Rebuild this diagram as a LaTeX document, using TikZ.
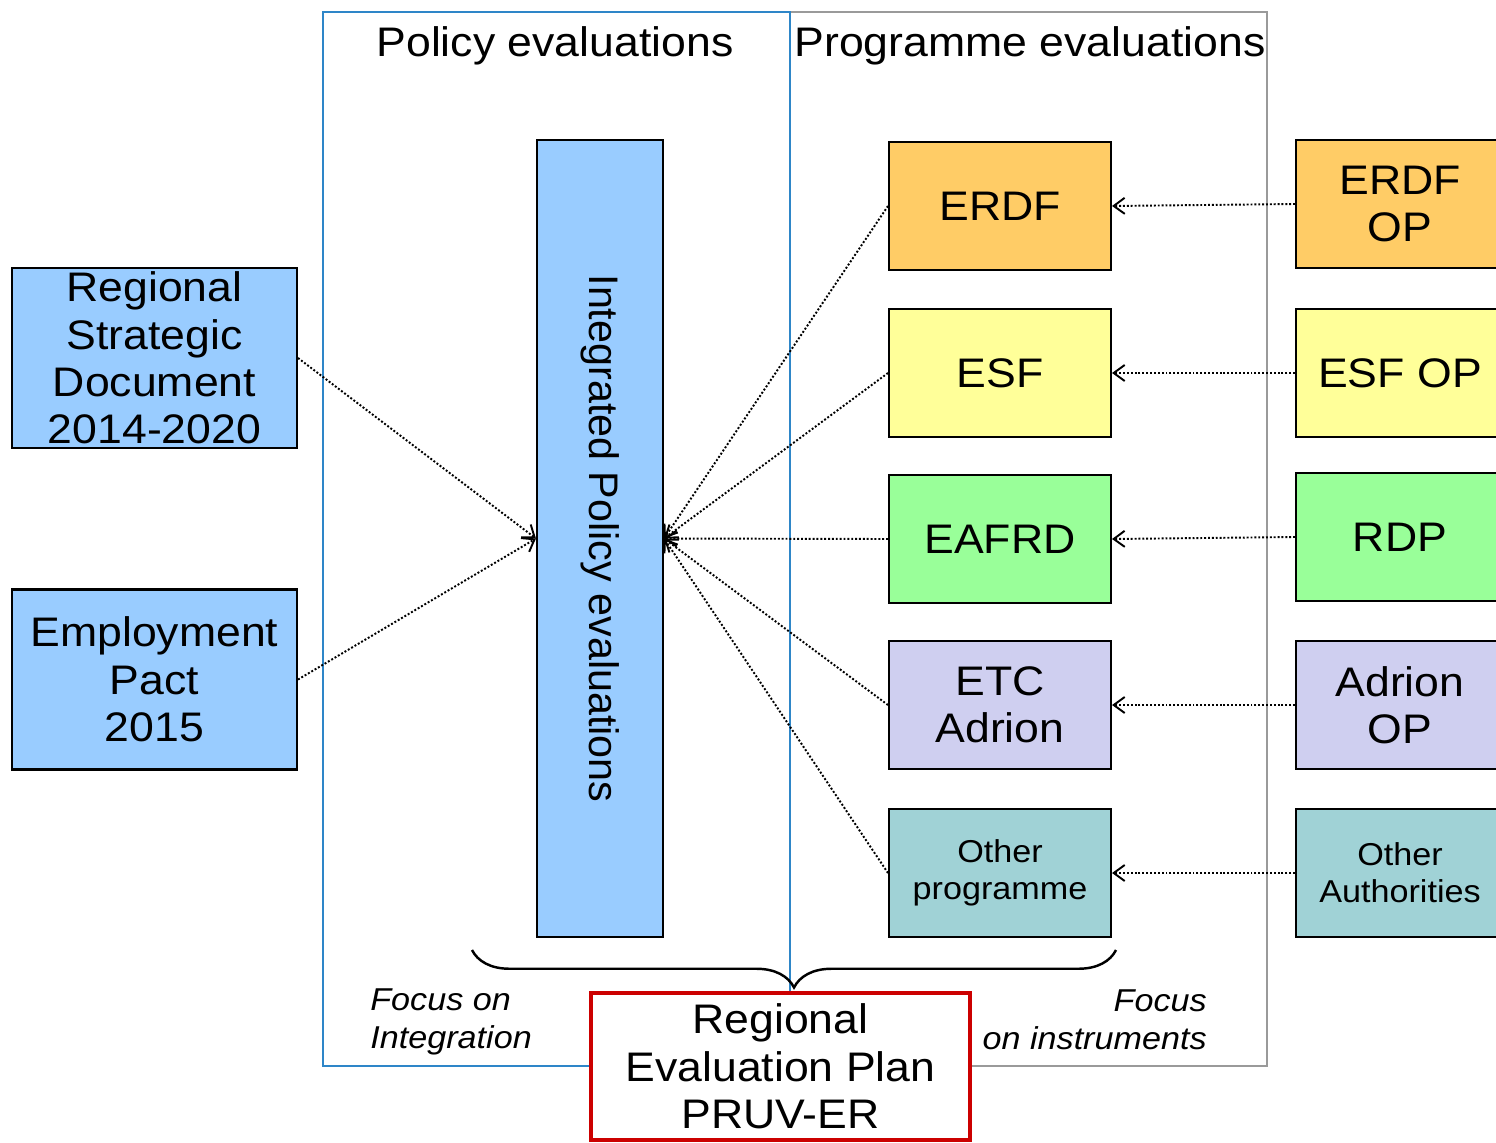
\documentclass[tikz,border=0pt]{standalone}
\usepackage{fontspec}
\setmainfont[FakeStretch=1.08]{Liberation Sans}
\newfontfamily\plainfont{Liberation Sans}
\usepackage{graphicx}
\usetikzlibrary{arrows.meta,decorations.pathreplacing}
\definecolor{lblue}{HTML}{99CCFF}
\definecolor{corange}{HTML}{FFCC66}
\definecolor{cyellow}{HTML}{FFFF99}
\definecolor{cgreen}{HTML}{99FF99}
\definecolor{clav}{HTML}{CFCFF0}
\definecolor{cteal}{HTML}{A0D2D6}
\definecolor{frameblue}{HTML}{2E86C8}
\definecolor{framegray}{HTML}{9A9A9A}
\definecolor{cred}{HTML}{CC0000}
\tikzset{
  box/.style={draw=black, line width=1.2pt, inner sep=0pt, align=center,
    font=\fontsize{23.5}{27}\selectfont},
  midbox/.style={box, minimum width=4.44cm, minimum height=2.56cm},
  rightbox/.style={box, minimum width=4.16cm, minimum height=2.56cm},
  leftbox/.style={box, fill=lblue, minimum width=5.7cm, minimum height=3.6cm},
  small/.style={font=\fontsize{18}{21}\selectfont},
  dotarrow/.style={line width=1.1pt, dash pattern=on 1.1pt off 1.1pt, -{Straight Barb[length=2.2mm,width=3.2mm]}},
  title/.style={font=\fontsize{23.5}{27}\selectfont, inner sep=0pt},
  focus/.style={font=\itshape\fontsize{18}{21.5}\selectfont, inner sep=0pt}
}
\begin{document}
\begin{tikzpicture}[x=0.02cm,y=-0.02cm]
\clip (0,0) rectangle (1496,1142);
\fill[white] (0,0) rectangle (1496,1142);
% frames
\draw[framegray, line width=1.1pt] (790,12) rectangle (1267,1066);
\draw[frameblue, line width=1.3pt] (323,12) rectangle (790,1066);
\node[title] (tpol) at (555,46) {Policy evaluations};
\node[title] (tprog) at (1030,46) {Programme evaluations};
% integrated box
\node[box, fill=lblue, minimum width=2.52cm, minimum height=15.94cm] (ipe) at (600,538.5)
  {\rotatebox{-90}{\plainfont Integrated Policy evaluations}};
% left boxes
\node[leftbox] (rsd) at (154.5,358) {Regional\\Strategic\\Document\\2014-2020};
\node[leftbox] (emp) at (154.5,679.5) {Employment\\Pact\\2015};
% middle boxes
\node[midbox, fill=corange] (erdf) at (1000,206) {ERDF};
\node[midbox, fill=cyellow] (esf) at (1000,373) {ESF};
\node[midbox, fill=cgreen] (eafrd) at (1000,539) {EAFRD};
\node[midbox, fill=clav] (etc) at (1000,705) {ETC\\Adrion};
\node[midbox, fill=cteal, small] (oth) at (1000,873) {Other\\programme};
% right boxes
\node[rightbox, fill=corange] (rerdf) at (1400,204) {ERDF\\OP};
\node[rightbox, fill=cyellow] (resf) at (1400,373) {ESF OP};
\node[rightbox, fill=cgreen] (rrdp) at (1400,537) {RDP};
\node[rightbox, fill=clav] (radr) at (1400,705) {Adrion\\OP};
\node[rightbox, fill=cteal, small] (roth) at (1400,873) {Other\\Authorities};
% arrows
\draw[dotarrow] (rsd.east) -- (ipe.west);
\draw[dotarrow] (emp.east) -- (ipe.west);
\foreach \n in {erdf,esf,eafrd,etc,oth}{
  \draw[dotarrow] (\n.west) -- (ipe.east);
}
\draw[dotarrow] (rerdf.west) -- (erdf.east);
\draw[dotarrow] (resf.west) -- (esf.east);
\draw[dotarrow] (rrdp.west) -- (eafrd.east);
\draw[dotarrow] (radr.west) -- (etc.east);
\draw[dotarrow] (roth.west) -- (oth.east);
% brace
\coordinate (bl) at (472,950);
\coordinate (br) at (1116,950);
\draw[line width=1.4pt, decorate, decoration={brace, mirror, amplitude=0.75cm}] (bl) -- (br);
% red box
\node[box, draw=cred, fill=white, line width=2.4pt, minimum width=7.58cm, minimum height=2.94cm] (plan) at (780.5,1066.5)
  {Regional\\Evaluation Plan\\PRUV-ER};
\node[focus, anchor=west, align=left] (fint) at (370,1022) {Focus on\\Integration};
\node[focus, anchor=east, align=right] (finst) at (1207,1020) {Focus\\on instruments};
\end{tikzpicture}
\end{document}
